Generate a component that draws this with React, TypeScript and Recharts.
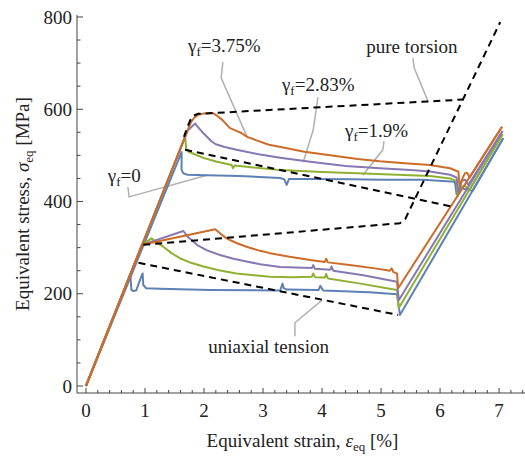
import { LineChart, Line, XAxis, YAxis, ReferenceDot, Label } from "recharts";

type Pt = [number, number];

const BLUE = "#5E81B5";
const GREEN = "#8FB131";
const PURPLE = "#8778B3";
const ORANGE = "#CD6B28";
const AXIS = "#444";
const TEXT = "#222";
const LEADER = "#b0b0b0";
const FONT = "'Liberation Serif', 'Times New Roman', serif";

const xTicks = [
  0, 0.2, 0.4, 0.6, 0.8, 1, 1.2, 1.4, 1.6, 1.8, 2, 2.2, 2.4, 2.6, 2.8, 3, 3.2, 3.4, 3.6, 3.8,
  4, 4.2, 4.4, 4.6, 4.8, 5, 5.2, 5.4, 5.6, 5.8, 6, 6.2, 6.4, 6.6, 6.8, 7, 7.2, 7.4,
];
const yTicks = [0, 50, 100, 150, 200, 250, 300, 350, 400, 450, 500, 550, 600, 650, 700, 750, 800];
const xMajor = [0, 1, 2, 3, 4, 5, 6, 7];
const yMajor = [0, 200, 400, 600, 800];

// lower family (yield near 1 %)
const blueLower: Pt[] = [
  [0, 0], [0.75, 242], [0.77, 208], [0.8, 206], [0.85, 207], [0.94, 238], [0.96, 244], [0.97, 219],
  [1.02, 212], [1.25, 211], [2.1, 208], [3.29, 207], [3.33, 222], [3.35, 212], [3.4, 209], [3.94, 208],
  [3.97, 217], [4.02, 207], [4.8, 203], [5.27, 199], [5.32, 154], [7.07, 537],
];
const greenLower: Pt[] = [
  [0, 0], [0.95, 306], [1.11, 320], [1.2, 311], [1.31, 302], [1.45, 288], [1.59, 277], [1.78, 267],
  [1.99, 259], [2.25, 251], [2.55, 244], [2.85, 240], [3.12, 237], [3.5, 236], [3.83, 237], [3.85, 244],
  [3.88, 236], [4.05, 235], [4.07, 243], [4.1, 233], [4.6, 223], [5.27, 208], [5.3, 169], [7.06, 546],
];
const purpleLower: Pt[] = [
  [0, 0], [0.95, 306], [1.65, 336], [1.72, 324], [1.88, 306], [2.05, 294], [2.27, 284], [2.5, 276],
  [2.72, 270], [2.95, 264], [3.29, 258], [3.83, 256], [3.85, 262], [3.88, 254], [4.14, 252], [4.16, 259],
  [4.19, 250], [4.7, 240], [5.27, 226], [5.3, 186], [7.06, 553],
];
const orangeLower: Pt[] = [
  [0, 0], [0.95, 306], [2.19, 340], [2.28, 330], [2.38, 320], [2.55, 310], [2.72, 302], [2.95, 293],
  [3.12, 288], [3.45, 280], [3.8, 273], [4.05, 269], [4.07, 276], [4.1, 268], [4.5, 262], [4.9, 255],
  [5.15, 250], [5.18, 255], [5.21, 247], [5.27, 244], [5.29, 212], [7.05, 562],
];

// upper family (yield near 1.7 %)
const blueUpper: Pt[] = [
  [0, 0], [1.62, 507], [1.62, 468], [1.65, 461], [1.72, 458], [2.05, 457], [2.6, 455], [3.29, 451],
  [3.36, 448], [3.4, 436], [3.44, 449], [3.8, 449], [4.5, 448], [5.0, 447], [5.71, 447], [6.25, 443],
  [6.28, 416], [6.33, 432], [6.38, 428], [6.55, 423], [7.07, 537],
];
const greenUpper: Pt[] = [
  [0, 0], [1.68, 540], [1.7, 512], [1.75, 507], [1.81, 504], [2.0, 494], [2.22, 486], [2.47, 479],
  [2.49, 472], [2.52, 478], [2.8, 474], [3.29, 468], [4.0, 464], [4.6, 461], [5.49, 457], [5.83, 455],
  [6.17, 450], [6.28, 444], [6.3, 412], [6.36, 432], [6.42, 434], [6.5, 425], [7.06, 546],
];
const purpleUpper: Pt[] = [
  [0, 0], [1.72, 553], [1.79, 562], [1.85, 569], [1.92, 558], [1.99, 548], [2.13, 530], [2.2, 524],
  [2.35, 518], [2.55, 512], [2.9, 503], [3.29, 495], [3.8, 486], [4.4, 477], [4.98, 472], [5.5, 468],
  [5.83, 465], [6.17, 458], [6.28, 452], [6.31, 420], [6.37, 445], [6.43, 447], [6.48, 436], [7.06, 553],
];
const orangeUpper: Pt[] = [
  [0, 0], [1.74, 560], [1.78, 572], [1.83, 581], [1.9, 588], [2.0, 591], [2.14, 592], [2.22, 586],
  [2.31, 577], [2.44, 559], [2.55, 553], [2.64, 548], [2.73, 540], [2.9, 532], [3.1, 523], [3.3, 518],
  [3.7, 508], [4.2, 499], [4.6, 492], [4.98, 487], [5.4, 483], [5.83, 479], [6.17, 472], [6.28, 466],
  [6.31, 465], [6.33, 434], [6.38, 450], [6.42, 461], [6.46, 462], [6.5, 452], [7.05, 562],
];

// dashed reference paths
const torsionUpper: Pt[] = [[1.66, 540], [1.72, 562], [1.77, 577], [1.82, 586], [1.9, 590], [6.39, 621]];
const torsionLower: Pt[] = [[0.97, 306], [5.32, 353], [5.41, 362], [7.02, 789]];
const tensionUpper: Pt[] = [[1.68, 512], [6.2, 389]];
const tensionLower: Pt[] = [[0.89, 267], [5.29, 154]];

// callout leaders
const leader375: Pt[] = [[2.32, 702], [2.29, 668], [2.73, 540]];
const leader283: Pt[] = [[3.93, 626], [3.85, 555], [3.68, 485]];
const leader19: Pt[] = [[5.05, 531], [5.03, 512], [4.69, 457]];
const leader0: Pt[] = [[0.71, 431], [0.73, 410], [2.05, 457]];
const leaderTorsion: Pt[] = [[5.54, 711], [5.56, 690], [5.8, 616]];
const leaderTension: Pt[] = [[3.54, 108], [3.54, 137], [4.0, 186]];

const pts = (p: Pt[]) => p.map(([x, y]) => ({ x, y }));

const isMajor = (v: number, list: number[]) => list.some((m) => Math.abs(m - v) < 1e-6);

function BottomTick(props: any) {
  const { x, y, payload } = props;
  const major = isMajor(payload.value, xMajor);
  return (
    <g>
      <line x1={x} y1={y} x2={x} y2={y - (major ? 5 : 3)} stroke={AXIS} strokeWidth={1} />
      {major && (
        <text x={x} y={y + 24} textAnchor="middle" fontSize={19} fontFamily={FONT} fill={TEXT}>
          {payload.value}
        </text>
      )}
    </g>
  );
}

function TopTick(props: any) {
  const { x, y, payload } = props;
  const major = isMajor(payload.value, xMajor);
  return <line x1={x} y1={y} x2={x} y2={y + (major ? 5 : 3)} stroke={AXIS} strokeWidth={1} />;
}

function LeftTick(props: any) {
  const { x, y, payload } = props;
  const major = isMajor(payload.value, yMajor);
  return (
    <g>
      <line x1={x} y1={y} x2={x + (major ? 6 : 3.5)} y2={y} stroke={AXIS} strokeWidth={1} />
      {major && (
        <text x={x - 5} y={y} dy="0.35em" textAnchor="end" fontSize={19} fontFamily={FONT} fill={TEXT}>
          {payload.value}
        </text>
      )}
    </g>
  );
}

function XTitle(props: any) {
  const vb = props.viewBox;
  return (
    <text x={vb.x + vb.width / 2} y={vb.y + 54} textAnchor="middle" fontSize={19} fontFamily={FONT} fill={TEXT}>
      Equivalent strain, <tspan fontStyle="italic">ε</tspan>
      <tspan fontSize={13} dy={4}>eq</tspan>
      <tspan dy={-4}> [%]</tspan>
    </text>
  );
}

function YTitle(props: any) {
  const vb = props.viewBox;
  const cx = 29;
  const cy = vb.y + vb.height / 2;
  return (
    <text
      x={cx}
      y={cy}
      transform={`rotate(-90 ${cx} ${cy})`}
      textAnchor="middle"
      fontSize={19}
      fontFamily={FONT}
      fill={TEXT}
    >
      Equivalent stress, <tspan fontStyle="italic">σ</tspan>
      <tspan fontSize={13} dy={4}>eq</tspan>
      <tspan dy={-4}> [MPa]</tspan>
    </text>
  );
}

function gammaLabel(value: string) {
  return (p: any) => (
    <text x={p.cx} y={p.cy} fontSize={19} fontFamily={FONT} fill={TEXT}>
      γ<tspan fontSize={13} dy={4}>f</tspan>
      <tspan dy={-4}>={value}</tspan>
    </text>
  );
}

function plainLabel(value: string) {
  return (p: any) => (
    <text x={p.cx} y={p.cy} fontSize={19} fontFamily={FONT} fill={TEXT}>
      {value}
    </text>
  );
}

const curves: { data: Pt[]; color: string }[] = [
  { data: blueLower, color: BLUE },
  { data: blueUpper, color: BLUE },
  { data: greenLower, color: GREEN },
  { data: greenUpper, color: GREEN },
  { data: purpleLower, color: PURPLE },
  { data: purpleUpper, color: PURPLE },
  { data: orangeLower, color: ORANGE },
  { data: orangeUpper, color: ORANGE },
];

const leaders = [leader375, leader283, leader19, leader0, leaderTorsion, leaderTension];
const dashed = [torsionUpper, torsionLower, tensionUpper, tensionLower];

const X_DOMAIN: [number, number] = [-0.1525, 7.49];
const Y_DOMAIN: [number, number] = [-15.2, 804.3];

export default function App() {
  return (
    <div style={{ position: "absolute", left: 0, top: 0, width: 525, height: 457, overflow: "hidden", background: "#fff" }}>
      <LineChart width={540} height={457} margin={{ top: 15, right: 12, left: 0, bottom: 0 }}>
        <XAxis
          type="number"
          dataKey="x"
          domain={X_DOMAIN}
          allowDataOverflow
          ticks={xTicks}
          interval={0}
          tick={<BottomTick />}
          tickSize={0}
          tickMargin={0}
          tickLine={false}
          height={64}
          stroke={AXIS}
        >
          <Label content={<XTitle />} />
        </XAxis>
        <XAxis
          xAxisId="top"
          orientation="top"
          type="number"
          dataKey="x"
          domain={X_DOMAIN}
          allowDataOverflow
          ticks={xTicks}
          interval={0}
          tick={<TopTick />}
          tickSize={0}
          tickMargin={0}
          tickLine={false}
          height={0}
          stroke={AXIS}
        />
        <YAxis
          type="number"
          domain={Y_DOMAIN}
          allowDataOverflow
          ticks={yTicks}
          interval={0}
          tick={<LeftTick />}
          tickSize={0}
          tickMargin={0}
          tickLine={false}
          width={77}
          stroke={AXIS}
        >
          <Label content={<YTitle />} />
        </YAxis>

        {leaders.map((d, i) => (
          <Line
            key={`leader-${i}`}
            data={pts(d)}
            dataKey="y"
            type="linear"
            stroke={LEADER}
            strokeWidth={1.5}
            dot={false}
            activeDot={false}
            isAnimationActive={false}
          />
        ))}

        {curves.map((c, i) => (
          <Line
            key={`curve-${i}`}
            data={pts(c.data)}
            dataKey="y"
            type="linear"
            stroke={c.color}
            strokeWidth={2}
            strokeLinejoin="round"
            dot={false}
            activeDot={false}
            isAnimationActive={false}
          />
        ))}

        {dashed.map((d, i) => (
          <Line
            key={`dash-${i}`}
            data={pts(d)}
            dataKey="y"
            type="linear"
            stroke="#000"
            strokeWidth={2}
            strokeDasharray="7 5"
            dot={false}
            activeDot={false}
            isAnimationActive={false}
          />
        ))}

        <ReferenceDot x={1.73} y={724} r={0} shape={gammaLabel("3.75%")} />
        <ReferenceDot x={3.32} y={639} r={0} shape={gammaLabel("2.83%")} />
        <ReferenceDot x={4.39} y={540} r={0} shape={gammaLabel("1.9%")} />
        <ReferenceDot x={0.37} y={442} r={0} shape={gammaLabel("0")} />
        <ReferenceDot x={4.75} y={722} r={0} shape={plainLabel("pure torsion")} />
        <ReferenceDot x={2.07} y={72} r={0} shape={plainLabel("uniaxial tension")} />
      </LineChart>
    </div>
  );
}
